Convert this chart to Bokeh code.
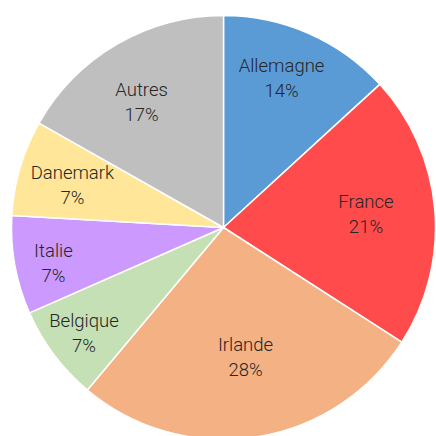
import math
from bokeh.plotting import figure
from bokeh.models import ColumnDataSource
from bokeh.core.properties import value
from bokeh.embed import file_html
from bokeh.resources import INLINE

# Data
countries = ["Allemagne", "France", "Irlande", "Belgique", "Italie", "Danemark", "Autres"]
shares = [13.2, 20.9, 27.0, 7.3, 7.5, 7.3, 16.8]
pct_labels = ["14%", "21%", "28%", "7%", "7%", "7%", "17%"]
colors = ["#5B9BD5", "#FF4B4B", "#F4B183", "#C5E0B4", "#CC99FF", "#FFE699", "#BFBFBF"]

# Layout: label distance from centre (fraction of radius) and angular nudge (degrees)
label_r = [0.755, 0.675, 0.62, 0.825, 0.82, 0.74, 0.705]
label_da = [2.5, 0.5, 1.0, 0.2, 1.7, 0.8, 3.0]
R = 212

total = sum(shares)
starts, ends, lx, ly = [], [], [], []
cum = 0.0
for s, lr, da in zip(shares, label_r, label_da):
    a0 = math.pi / 2 - cum / total * 2 * math.pi
    cum += s
    a1 = math.pi / 2 - cum / total * 2 * math.pi
    starts.append(a0)
    ends.append(a1)
    mid = (a0 + a1) / 2 + math.radians(da)
    lx.append(lr * R * math.cos(mid))
    ly.append(lr * R * math.sin(mid))

src = ColumnDataSource(dict(country=countries, pct=pct_labels, start=starts, end=ends,
                            color=colors, lx=lx, ly=ly))

p = figure(width=436, height=436, output_backend="svg", toolbar_location=None,
           x_range=(-223, 213), y_range=(-209, 227), min_border=0)
p.wedge(x=0, y=0, radius=R, start_angle="start", end_angle="end", direction="clock",
        fill_color="color", line_color="white", line_width=1.5, source=src)

font = value("'Roboto Light', Roboto")
p.text(x="lx", y="ly", text="country", source=src, text_align="center", text_baseline="middle",
       y_offset=-12.5, text_font=font, text_font_size="18.5px", text_color="#262626")
p.text(x="lx", y="ly", text="pct", source=src, text_align="center", text_baseline="middle",
       y_offset=12.5, text_font=font, text_font_size="18.5px", text_color="#262626")

p.axis.visible = False
p.grid.visible = False
p.outline_line_color = None
p.background_fill_color = "white"
p.border_fill_color = "white"

open("out.html", "w").write(file_html(p, INLINE))
